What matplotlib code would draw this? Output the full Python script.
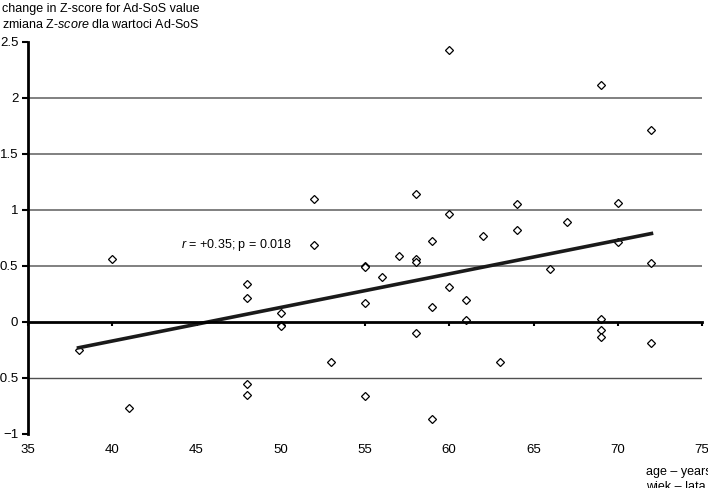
import numpy as np
import matplotlib
matplotlib.use('Agg')
import matplotlib.pyplot as plt

plt.rcParams['font.family'] = ['Liberation Sans', 'DejaVu Sans']
plt.rcParams['mathtext.fontset'] = 'custom'
plt.rcParams['mathtext.rm'] = 'Liberation Sans'
plt.rcParams['mathtext.it'] = 'Liberation Sans:italic'

# dane
age = [38, 40, 41, 48, 48, 48, 48, 50, 50, 50, 52, 52, 53,
       55, 55, 55, 55, 56, 57, 58, 58, 58, 58, 59, 59, 59,
       60, 60, 60, 61, 61, 62, 63, 64, 64, 66, 67,
       69, 69, 69, 69, 70, 70, 72, 72, 72]
zscore = [-0.25, 0.56, -0.77, 0.34, 0.21, -0.55, -0.65, 0.08, -0.03, -0.04, 1.10, 0.69, -0.36,
          0.50, 0.49, 0.17, -0.66, 0.40, 0.59, 1.14, 0.56, 0.54, -0.10, 0.72, 0.13, -0.87,
          2.43, 0.96, 0.31, 0.20, 0.02, 0.77, -0.36, 1.05, 0.82, 0.47, 0.89,
          2.12, 0.03, -0.07, -0.13, 1.06, 0.71, 1.71, 0.53, -0.19]

# linia trendu (koncowki)
trend_x = [38, 72]
trend_y = [-0.23, 0.79]

x_ticks = [35, 40, 45, 50, 55, 60, 65, 70, 75]
y_ticks = [-1, -0.5, 0, 0.5, 1, 1.5, 2, 2.5]
y_labels = ['\u22121', '\u22120.5', '0', '0.5', '1', '1.5', '2', '2.5']

fig = plt.figure(figsize=(7.08, 4.88), dpi=100)
ax = fig.add_axes([28 / 708, 1 - 434 / 488, 674 / 708, 392 / 488])

# siatka
for v in [0.5, 1, 1.5, 2]:
    ax.axhline(v, color='#808080', lw=1.4, zorder=1)
ax.axhline(-0.5, color='#505050', lw=1.0, zorder=1)

ax.plot(age, zscore, linestyle='none', marker='D', markersize=4.5,
        markerfacecolor='white', markeredgecolor='black', markeredgewidth=0.9, zorder=3)
ax.plot(trend_x, trend_y, color='#1a1a1a', lw=2.6, zorder=4)

ax.set_xlim(35, 75)
ax.set_ylim(-1, 2.5)

ax.spines['top'].set_visible(False)
ax.spines['right'].set_visible(False)
ax.spines['left'].set_linewidth(2)
ax.spines['bottom'].set_position(('data', 0))
ax.spines['bottom'].set_linewidth(2)
ax.spines['bottom'].set_zorder(5)

ax.set_xticks(x_ticks)
ax.tick_params(axis='x', direction='out', length=3, width=1.5, labelbottom=False)
ax.set_yticks(y_ticks)
ax.set_yticklabels(y_labels)
ax.tick_params(axis='y', direction='out', length=4, width=1.5, labelsize=9.5, pad=3)

# podpisy osi x na dole
sec = ax.secondary_xaxis(0.0)
sec.set_xticks(x_ticks)
sec.tick_params(length=0, labelsize=9.5, pad=7)
sec.spines['bottom'].set_visible(False)

ax.text(44.1, 0.69, '$r$ = +0.35; p = 0.018', fontsize=9, va='center', ha='left', zorder=6)

fig.text(2 / 708, 1 - 9 / 488, 'change in Z-score for Ad-SoS value', fontsize=9, va='center', ha='left')
fig.text(2 / 708, 1 - 24 / 488, 'zmiana Z-$score$ dla wartoci Ad-SoS', fontsize=9, va='center', ha='left')
fig.text(646 / 708, 1 - 472 / 488, 'age \u2013 years', fontsize=9, va='center', ha='left')
fig.text(646 / 708, 1 - 487 / 488, 'wiek \u2013 lata', fontsize=9, va='center', ha='left')

fig.savefig('out.png', dpi=100)
